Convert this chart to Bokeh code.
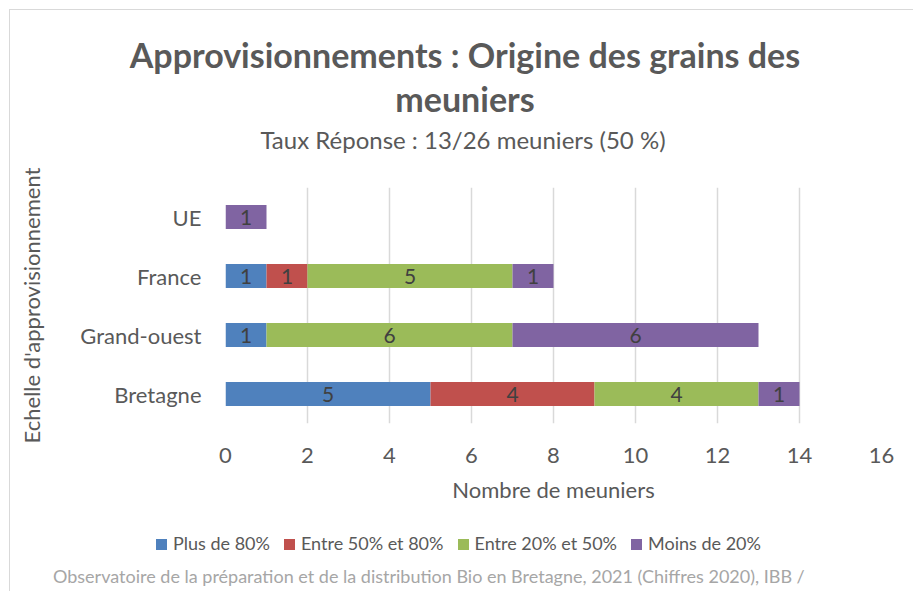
from bokeh.plotting import figure
from bokeh.layouts import column
from bokeh.models import ColumnDataSource, Range1d, FactorRange, FixedTicker, Div
from bokeh.core.properties import value
from bokeh.embed import file_html
from bokeh.resources import INLINE

title_line1 = "Approvisionnements : Origine des grains des"
title_line2 = "meuniers"
subtitle = "Taux Réponse : 13/26 meuniers (50 %)"
x_label = "Nombre de meuniers"
y_label = "Echelle d'approvisionnement"
source_note = "Observatoire de la préparation et de la distribution Bio en Bretagne, 2021 (Chiffres 2020), IBB /"

categories = ["Bretagne", "Grand-ouest", "France", "UE"]
series_names = ["Plus de 80%", "Entre 50% et 80%", "Entre 20% et 50%", "Moins de 20%"]
plus80 = [5, 1, 1, 0]
entre50_80 = [4, 0, 1, 0]
entre20_50 = [4, 6, 5, 0]
moins20 = [1, 6, 1, 1]
x_ticks = [0, 2, 4, 6, 8, 10, 12, 14, 16]

colors = ["#4F81BD", "#C0504D", "#9BBB59", "#8064A2"]
keys = ["s1", "s2", "s3", "s4"]
series = [plus80, entre50_80, entre20_50, moins20]

FONT = "Lato"
TXT = "#595959"

data = {"cat": categories}
for k, s in zip(keys, series):
    data[k] = s
source = ColumnDataSource(data)

# ---- title block ----
top_html = (
    f'<div style="position:relative;width:903px;height:150px;font-family:{FONT},sans-serif;color:{TXT};">'
    f'<div style="position:absolute;left:55px;width:800px;top:25px;text-align:center;font-size:34px;'
    f'font-weight:bold;line-height:40px;white-space:nowrap;">{title_line1}</div>'
    f'<div style="position:absolute;left:55px;width:800px;top:69px;text-align:center;font-size:34px;'
    f'font-weight:bold;line-height:40px;white-space:nowrap;">{title_line2}</div>'
    f'<div style="position:absolute;left:53px;width:800px;top:116px;text-align:center;font-size:24px;'
    f'line-height:28px;white-space:nowrap;">{subtitle}</div>'
    '</div>'
)
top_div = Div(text=top_html, width=903, height=150, margin=0)

# ---- chart ----
p = figure(frame_width=656, frame_height=236, output_backend="svg", toolbar_location=None,
           x_range=Range1d(0, 16), y_range=FactorRange(*categories),
           min_border_left=215, min_border_right=32, min_border_top=27, min_border_bottom=92)
p.outline_line_color = None
p.background_fill_color = "white"
p.border_fill_color = "white"

p.hbar_stack(keys, y="cat", height=0.41, color=colors, line_color=None, source=source)

# value labels
lx, ly, lt = [], [], []
for i, c in enumerate(categories):
    cum = 0
    for s in series:
        v = s[i]
        if v > 0:
            lx.append(cum + v / 2)
            ly.append(c)
            lt.append(str(v))
        cum += v
p.text(x=lx, y=ly, text=lt, text_align="center", text_baseline="middle",
       text_font=value(FONT), text_font_size="21px", text_color="#404040")

p.xgrid.ticker = FixedTicker(ticks=x_ticks)
p.xaxis.ticker = FixedTicker(ticks=x_ticks)
p.xgrid.grid_line_color = "#d9d9d9"
p.xgrid.grid_line_width = 1.5
p.ygrid.grid_line_color = None

for ax in (p.xaxis, p.yaxis):
    ax.axis_line_color = None
    ax.major_tick_line_color = None
    ax.minor_tick_line_color = None
    ax.major_label_text_font = FONT
    ax.major_label_text_font_size = "22px"
    ax.major_label_text_color = TXT
    ax.axis_label_text_font = FONT
    ax.axis_label_text_font_size = "22px"
    ax.axis_label_text_font_style = "normal"
    ax.axis_label_text_color = TXT
p.xaxis.major_label_standoff = 18
p.yaxis.major_label_standoff = 18
p.xaxis.axis_label = x_label
p.xaxis.axis_label_standoff = 10
p.yaxis.axis_label = y_label
p.yaxis.axis_label_standoff = 32

# ---- legend + source note ----
legend_items = "".join(
    f'<span style="display:inline-block;width:11px;height:11px;background:{c};margin-right:6px;"></span>'
    f'<span style="margin-right:14px;">{n}</span>'
    for n, c in zip(series_names, colors)
)
bottom_html = (
    f'<div style="position:relative;width:903px;height:76px;font-family:{FONT},sans-serif;">'
    f'<div style="position:absolute;left:146px;top:17px;line-height:22px;font-size:18px;color:{TXT};'
    f'white-space:nowrap;">{legend_items}</div>'
    f'<div style="position:absolute;left:43px;top:50px;line-height:22px;font-size:18px;color:#a6a6a6;'
    f'white-space:nowrap;">{source_note}</div>'
    '</div>'
)
bottom_div = Div(text=bottom_html, width=903, height=76, margin=0)

layout = column(top_div, p, bottom_div, spacing=0,
                styles={"margin-left": "9px", "margin-top": "9px",
                        "border-top": "1px solid #d9d9d9", "border-left": "1px solid #d9d9d9"})

open("out.html", "w").write(file_html(layout, INLINE))
